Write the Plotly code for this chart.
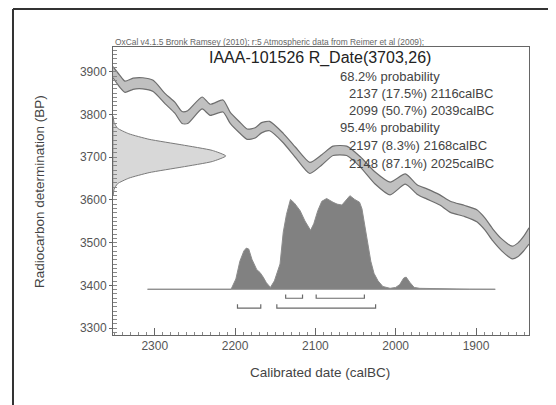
import plotly.graph_objects as go

# ---------------- data ----------------
# calibration curve (IntCal09 band): calBC year, BP centre, half-width (BP)
cal_year = [2352, 2344, 2337, 2327, 2315, 2302, 2287, 2275, 2266, 2259, 2241, 2231, 2215, 2206,
            2194, 2185, 2175, 2167, 2157, 2140, 2125, 2107, 2092, 2078, 2061, 2044, 2026, 2007,
            1988, 1973, 1961, 1945, 1932, 1914, 1899, 1889, 1879, 1868, 1855, 1848, 1841, 1834]
cal_bp = [3899, 3879, 3865, 3872, 3873, 3867, 3837, 3816, 3793, 3794, 3827, 3811, 3820, 3792,
          3769, 3754, 3757, 3769, 3773, 3745, 3712, 3675, 3694, 3715, 3715, 3689, 3652, 3627,
          3649, 3624, 3614, 3600, 3584, 3574, 3563, 3544, 3518, 3495, 3477, 3483, 3497, 3516]
cal_err = [13, 14, 13, 13, 13, 13, 12, 13, 14, 15, 14, 13, 14, 13,
           13, 12, 12, 12, 11, 11, 12, 13, 12, 11, 11, 12, 14, 15,
           12, 11, 12, 12, 13, 13, 14, 14, 14, 14, 15, 16, 17, 19]

# radiocarbon measurement distribution R_Date(3703,26): BP and relative density
meas_bp = [3610, 3625, 3638, 3651, 3664, 3677, 3690, 3703, 3716, 3729, 3742, 3755, 3768, 3781, 3796]
meas_rel = [0.0, 0.01, 0.04, 0.14, 0.32, 0.61, 0.88, 1.0, 0.88, 0.61, 0.32, 0.14, 0.04, 0.01, 0.0]

# calibrated (posterior) distribution: calBC year and relative probability
post_year = [2309, 2205, 2199, 2194, 2189, 2186, 2183, 2179, 2173, 2169, 2165, 2161, 2156, 2151,
             2144, 2140, 2136, 2131, 2126, 2119, 2113, 2106, 2102, 2097, 2092, 2086, 2078, 2073,
             2067, 2062, 2057, 2051, 2045, 2042, 2038, 2035, 2031, 2027, 2022, 2016, 2007, 2000,
             1995, 1990, 1987, 1982, 1977, 1970, 1945, 1908, 1876]
post_rel = [0, 0, 0.11, 0.30, 0.41, 0.44, 0.43, 0.32, 0.21, 0.18, 0.13, 0.07, 0.02, 0.09,
            0.27, 0.61, 0.80, 0.96, 0.92, 0.84, 0.73, 0.63, 0.70, 0.84, 0.94, 0.97, 0.93, 0.91,
            0.90, 0.95, 1.0, 0.96, 0.93, 0.86, 0.66, 0.48, 0.30, 0.17, 0.09, 0.03, 0.01, 0.02,
            0.05, 0.12, 0.13, 0.07, 0.02, 0.01, 0.004, 0.001, 0]

# highest probability density ranges (calBC from, to)
range68 = [(2137, 2116), (2099, 2039)]
range95 = [(2197, 2168), (2148, 2025)]

prob_lines = ["68.2% probability", "2137 (17.5%) 2116calBC", "2099 (50.7%) 2039calBC",
              "95.4% probability", "2197 (8.3%) 2168calBC", "2148 (87.1%) 2025calBC"]

title_text = "IAAA-101526 R_Date(3703,26)"
credit_text = "OxCal v4.1.5 Bronk Ramsey (2010); r:5 Atmospheric data from Reimer et al (2009);"
x_title = "Calibrated date (calBC)"
y_title = "Radiocarbon determination (BP)"
x_ticks = [2300, 2200, 2100, 2000, 1900]
y_ticks = [3300, 3400, 3500, 3600, 3700, 3800, 3900]

# ---------------- layout constants ----------------
X_LEFT, X_RIGHT = 2352, 1834
Y_LOW, Y_HIGH = 3284, 3958
MEAS_SCALE = 140.5      # years of horizontal extent for the measurement curve
POST_BASE = 3391        # BP baseline of the posterior
POST_SCALE = 219        # BP height of the posterior maximum
BR68_Y, BR95_Y, BR_TICK = 3370, 3347, 9

FONT = "Liberation Sans, Arial, sans-serif"

fig = go.Figure()

# calibration band
lower = [b - e for b, e in zip(cal_bp, cal_err)]
upper = [b + e for b, e in zip(cal_bp, cal_err)]
fig.add_trace(go.Scatter(x=cal_year, y=lower, mode="lines",
                         line=dict(color="#6e6e6e", width=1.2, shape="spline", smoothing=0.6),
                         hoverinfo="skip", showlegend=False))
fig.add_trace(go.Scatter(x=cal_year, y=upper, mode="lines", fill="tonexty",
                         fillcolor="#c0c0c0",
                         line=dict(color="#6e6e6e", width=1.2, shape="spline", smoothing=0.6),
                         hoverinfo="skip", showlegend=False))

# measurement distribution on the y axis
mx = [X_LEFT - r * MEAS_SCALE for r in meas_rel]
fig.add_trace(go.Scatter(x=mx + [X_LEFT, X_LEFT], y=meas_bp + [meas_bp[-1], meas_bp[0]],
                         mode="lines", fill="toself", fillcolor="#d8d8d8",
                         line=dict(color="#7a7a7a", width=1, shape="spline", smoothing=0.5),
                         hoverinfo="skip", showlegend=False))

# posterior distribution
py = [POST_BASE + r * POST_SCALE for r in post_rel]
fig.add_trace(go.Scatter(x=post_year + [post_year[-1], post_year[0]],
                         y=py + [POST_BASE, POST_BASE],
                         mode="lines", fill="toself", fillcolor="#818181",
                         line=dict(color="#8c8c8c", width=1),
                         hoverinfo="skip", showlegend=False))

# range brackets
def bracket_xy(ranges, level):
    xs, ys = [], []
    for a, b in ranges:
        xs += [a, a, b, b, None]
        ys += [level + BR_TICK, level, level, level + BR_TICK, None]
    return xs, ys

for rng, lvl in ((range68, BR68_Y), (range95, BR95_Y)):
    bx, by = bracket_xy(rng, lvl)
    fig.add_trace(go.Scatter(x=bx, y=by, mode="lines",
                             line=dict(color="#6a6a6a", width=1.2),
                             hoverinfo="skip", showlegend=False))

# annotations
ann = []
ann.append(dict(text=credit_text, xref="paper", yref="paper", x=0.0, y=1.017,
                xanchor="left", yanchor="middle", showarrow=False,
                font=dict(family=FONT, size=8.4, color="#666")))
ann.append(dict(text=title_text, xref="paper", yref="paper", x=0.4976, y=0.9635,
                xanchor="center", yanchor="middle", showarrow=False,
                font=dict(family=FONT, size=16, color="#222")))
line_y = [0.8976, 0.8385, 0.7795, 0.7188, 0.658, 0.5972]
for i, (t, yy) in enumerate(zip(prob_lines, line_y)):
    indent = 0.5409 if i in (0, 3) else 0.5625
    ann.append(dict(text=t, xref="paper", yref="paper", x=indent, y=yy,
                    xanchor="left", yanchor="middle", showarrow=False,
                    font=dict(family=FONT, size=13, color="#444")))
ann.append(dict(text=x_title, xref="paper", yref="paper", x=0.4976, y=-0.1285,
                xanchor="center", yanchor="middle", showarrow=False,
                font=dict(family=FONT, size=13.5, color="#444")))
ann.append(dict(text=y_title, xref="paper", yref="paper", x=-0.1779, y=0.5,
                xanchor="center", yanchor="middle", showarrow=False, textangle=-90,
                font=dict(family=FONT, size=13.5, color="#444")))

# the page body adds an 8px offset, so the figure is 8px smaller and margins shifted
fig.update_layout(
    width=548, height=397,
    margin=dict(l=105, r=27, t=39, b=70, autoexpand=False),
    paper_bgcolor="white", plot_bgcolor="white",
    showlegend=False,
    annotations=ann,
    font=dict(family=FONT, color="#555"),
    shapes=[
        dict(type="line", xref="paper", yref="paper", x0=-0.2404, x1=-0.2404,
             y0=1.1319, y1=-0.3, line=dict(color="#333", width=2)),
        dict(type="line", xref="paper", yref="paper", x0=-0.2404, x1=1.1,
             y0=1.1319, y1=1.1319, line=dict(color="#333", width=2)),
    ],
)

fig.update_xaxes(range=[X_LEFT, X_RIGHT], tickvals=x_ticks, ticktext=[str(v) for v in x_ticks],
                 ticks="inside", ticklen=7, tickcolor="#666", showgrid=False, zeroline=False,
                 showline=True, linecolor="#666", linewidth=1, mirror=True, automargin=False,
                 minor=dict(dtick=10, ticks="inside", ticklen=3, tickcolor="#888", showgrid=False),
                 tickfont=dict(family=FONT, size=12, color="#555"))
fig.update_yaxes(range=[Y_LOW, Y_HIGH], tickvals=y_ticks, ticktext=[str(v) for v in y_ticks],
                 ticks="outside", ticklen=3, tickcolor="#666", showgrid=False, zeroline=False,
                 showline=True, linecolor="#666", linewidth=1, mirror=True, automargin=False,
                 minor=dict(dtick=10, ticks="inside", ticklen=4, tickcolor="#888", showgrid=False),
                 tickfont=dict(family=FONT, size=12, color="#555"))

fig.write_html("out.html")
